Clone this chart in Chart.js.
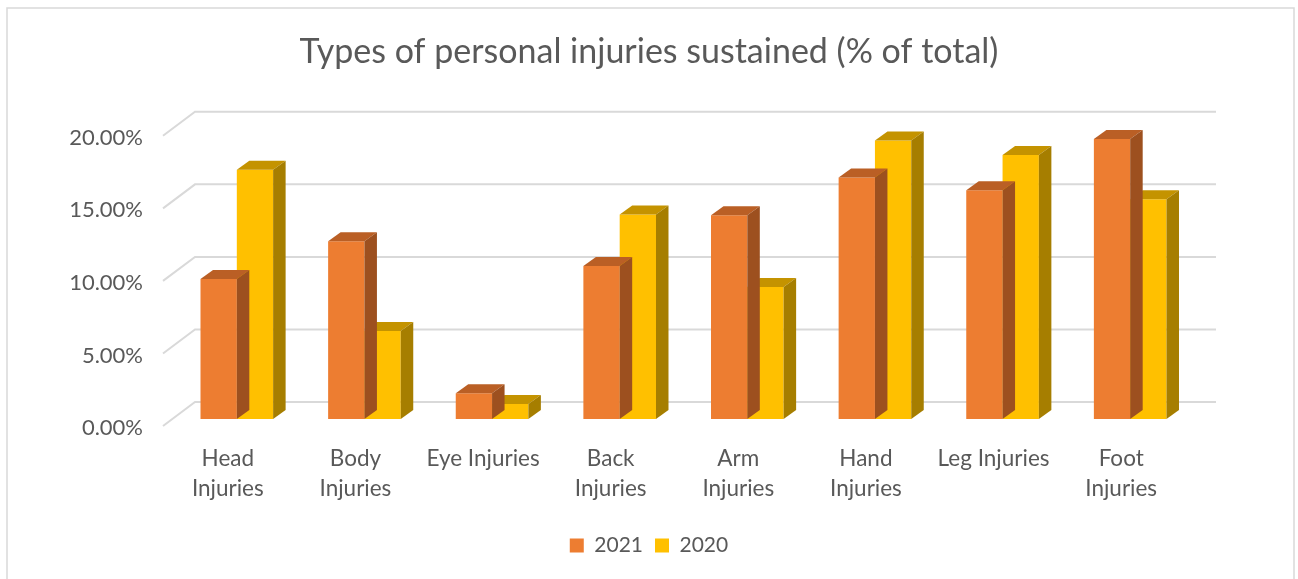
<!DOCTYPE html>
<html>
<head>
<meta charset="utf-8">
<script src="https://cdn.jsdelivr.net/npm/chart.js@4.4.1/dist/chart.umd.min.js"></script>
<style>
  html, body { margin: 0; padding: 0; background: #fff; }
  #wrap { position: relative; width: 1298px; height: 579px; }
</style>
</head>
<body>
<div id="wrap"><canvas id="injuryChart" width="1298" height="579"></canvas></div>
<script>
// data (% of total)
const categories = [['Head', 'Injuries'], ['Body', 'Injuries'], 'Eye Injuries', ['Back', 'Injuries'],
  ['Arm', 'Injuries'], ['Hand', 'Injuries'], 'Leg Injuries', ['Foot', 'Injuries']];
const seriesNames = ['2021', '2020'];
const values2021 = [9.65, 12.25, 1.77, 10.54, 14.04, 16.65, 15.76, 19.29];
const values2020 = [17.18, 6.07, 1.03, 14.1, 9.09, 19.2, 18.19, 15.14];
const yTicks = [0, 5, 10, 15, 20];

const TEXT = '#595959';
const GRID = '#d9d9d9';
const FONT = 'Lato, "Open Sans", sans-serif';
// front / top / side shades for the fake 3D columns
const shades = [
  { front: '#ED7D31', top: '#BA5F25', side: '#9D501F' },
  { front: '#FFC000', top: '#C49300', side: '#A67E00' }
];
const DEPTH = { dx: 12.5, dy: -9 };       // column depth
const FRONT = { dx: -10, dy: 7 };         // floor front edge vs bar plane
const BACK = { dx: 22, dy: -17 };         // back wall vs bar plane

const frame = {
  id: 'frame',
  beforeDraw(chart) {
    const ctx = chart.ctx;
    ctx.save();
    ctx.strokeStyle = GRID;
    ctx.lineWidth = 1.5;
    ctx.strokeRect(7, 8, 1287, 600);
    ctx.restore();
  }
};

const walls = {
  id: 'walls',
  beforeDatasetsDraw(chart) {
    const { ctx, chartArea: a, scales: { y } } = chart;
    ctx.save();
    ctx.strokeStyle = GRID;
    ctx.lineWidth = 2;
    y.ticks.forEach(t => {
      const yb = y.getPixelForValue(t.value);
      ctx.beginPath();
      ctx.moveTo(a.left + FRONT.dx, yb + FRONT.dy);
      ctx.lineTo(a.left + BACK.dx, yb + BACK.dy);
      ctx.lineTo(a.right + BACK.dx, yb + BACK.dy);
      ctx.stroke();
    });
    ctx.restore();
  }
};

const columns3d = {
  id: 'columns3d',
  afterDatasetDraw(chart, args) {
    const ctx = chart.ctx;
    const s = shades[args.index];
    const { dx, dy } = DEPTH;
    ctx.save();
    args.meta.data.forEach(bar => {
      const { x, y, base, width } = bar.getProps(['x', 'y', 'base', 'width'], true);
      const x0 = x - width / 2, x1 = x + width / 2;
      ctx.fillStyle = s.top;
      ctx.beginPath();
      ctx.moveTo(x0, y); ctx.lineTo(x1, y); ctx.lineTo(x1 + dx, y + dy); ctx.lineTo(x0 + dx, y + dy);
      ctx.closePath(); ctx.fill();
      ctx.fillStyle = s.side;
      ctx.beginPath();
      ctx.moveTo(x1, y); ctx.lineTo(x1 + dx, y + dy); ctx.lineTo(x1 + dx, base + dy); ctx.lineTo(x1, base);
      ctx.closePath(); ctx.fill();
    });
    ctx.restore();
  }
};

new Chart(document.getElementById('injuryChart'), {
  type: 'bar',
  data: {
    labels: categories,
    datasets: [
      { label: seriesNames[0], data: values2021, backgroundColor: shades[0].front, borderWidth: 0 },
      { label: seriesNames[1], data: values2020, backgroundColor: shades[1].front, borderWidth: 0 }
    ]
  },
  options: {
    responsive: false,
    animation: false,
    devicePixelRatio: 1,
    layout: { padding: { left: 0, right: 0, top: 0, bottom: 13 } },
    datasets: { bar: { categoryPercentage: 0.569, barPercentage: 1 } },
    scales: {
      x: {
        grid: { display: false },
        border: { display: false },
        ticks: { color: TEXT, font: { family: FONT, size: 22.5, lineHeight: 1.36 }, padding: 16, labelOffset: -9, maxRotation: 0, autoSkip: false },
        afterFit(scale) { scale.height = 104; }
      },
      y: {
        min: 0,
        max: 20,
        afterBuildTicks(scale) { scale.ticks = yTicks.map(v => ({ value: v })); },
        grid: { display: false },
        border: { display: false },
        ticks: { color: TEXT, font: { family: FONT, size: 22 }, padding: 22, labelOffset: 9, callback: v => v.toFixed(2) + '%' },
        afterFit(scale) { scale.width = 173; }
      },
      // empty right-hand axis that only reserves room for the back wall
      yRight: {
        position: 'right',
        display: true,
        grid: { display: false },
        border: { display: false },
        ticks: { display: false },
        afterFit(scale) { scale.width = 104; }
      }
    },
    plugins: {
      title: {
        display: true,
        text: 'Types of personal injuries sustained (% of total)',
        color: TEXT,
        font: { family: FONT, size: 34, weight: 'normal', lineHeight: 1.2 },
        padding: { top: 32, bottom: 56 }
      },
      legend: {
        position: 'bottom',
        labels: { color: TEXT, font: { family: FONT, size: 21 }, boxWidth: 14, boxHeight: 14, padding: 12 }
      },
      tooltip: { enabled: false }
    }
  },
  plugins: [frame, walls, columns3d]
});
</script>
</body>
</html>
